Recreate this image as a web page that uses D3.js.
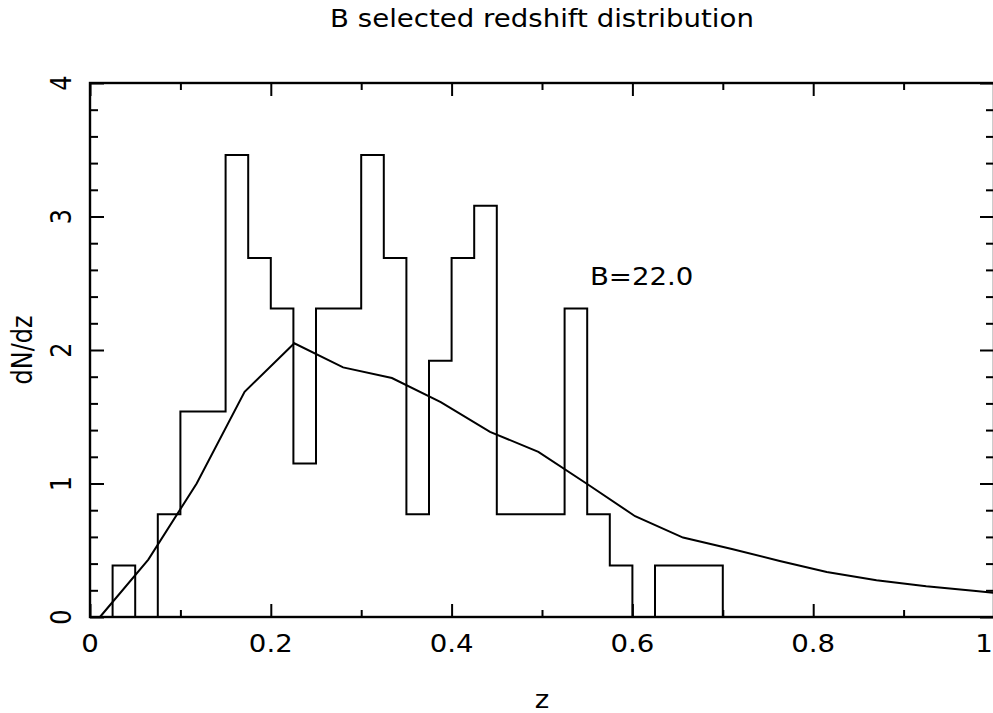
<!DOCTYPE html>
<html>
<head>
<meta charset="utf-8">
<script src="https://cdn.jsdelivr.net/npm/d3@7"></script>
<style>
  html, body { margin: 0; padding: 0; background: #fff; }
  svg { display: block; }
  text { font-family: "DejaVu Sans", sans-serif; fill: #000; }
</style>
</head>
<body>
<svg id="chart" width="993" height="713"></svg>
<script>
// ---- data ----
const titleText = "B selected redshift distribution";
const xLabelText = "z";
const yLabelText = "dN/dz";
const annotationText = "B=22.0";

// histogram: left bin edges (bin width 0.025) and dN/dz values
const binLeft = [0.000, 0.025, 0.050, 0.075, 0.100, 0.125, 0.150, 0.175, 0.200, 0.225,
                 0.250, 0.275, 0.300, 0.325, 0.350, 0.375, 0.400, 0.425, 0.450, 0.475,
                 0.500, 0.525, 0.550, 0.575, 0.600, 0.625, 0.650, 0.675];
const binValue = [0.00, 0.385, 0.00, 0.77, 1.54, 1.54, 3.46, 2.69, 2.31, 1.15,
                  2.31, 2.31, 3.46, 2.69, 0.77, 1.92, 2.69, 3.08, 0.77, 0.77,
                  0.77, 2.31, 0.77, 0.385, 0.00, 0.385, 0.385, 0.385];
const binWidth = 0.025;

// model curve
const modelZ = [0.011, 0.0645, 0.118, 0.171, 0.226, 0.280, 0.334, 0.388, 0.4425, 0.496,
                0.550, 0.603, 0.656, 0.710, 0.763, 0.815, 0.870, 0.925, 0.980, 1.000];
const modelN = [0.00, 0.43, 1.00, 1.687, 2.05, 1.87, 1.79, 1.61, 1.387, 1.237,
                0.996, 0.755, 0.595, 0.51, 0.42, 0.337, 0.275, 0.23, 0.195, 0.18];

// ticks
const xMajorTicks = [0, 0.2, 0.4, 0.6, 0.8, 1];
const xTickLabels = ["0", "0.2", "0.4", "0.6", "0.8", "1"];
const xMinorTicks = [0.1, 0.3, 0.5, 0.7, 0.9];
const yMajorTicks = [0, 1, 2, 3, 4];
const yTickLabels = ["0", "1", "2", "3", "4"];
const yMinorTicks = [0.2, 0.4, 0.6, 0.8, 1.2, 1.4, 1.6, 1.8, 2.2, 2.4, 2.6, 2.8, 3.2, 3.4, 3.6, 3.8];

// ---- layout ----
const L = 90, R = 994, T = 83, B = 617;
const SX = 1.15;        // horizontal stretch of glyphs
const FS = 24;

const svg = d3.select("#chart");
const x = d3.scaleLinear().domain([0, 1]).range([L, R]);
const y = d3.scaleLinear().domain([0, 4]).range([B, T]);

const defs = svg.append("defs");
defs.append("clipPath").attr("id", "plotclip")
  .append("rect").attr("x", L).attr("y", T - 2).attr("width", R - L).attr("height", B - T + 4);

// axes tick lines (inside-pointing)
function tickAxis(gen, tx, ty) {
  const g = svg.append("g").attr("transform", `translate(${tx},${ty})`).call(gen);
  g.selectAll(".domain").remove();
  g.selectAll("text").remove();
  g.selectAll("line").attr("stroke", "#000").attr("stroke-width", 2);
  return g;
}
tickAxis(d3.axisBottom(x).tickValues(xMajorTicks).tickSize(-13), 0, B);
tickAxis(d3.axisBottom(x).tickValues(xMinorTicks).tickSize(-7), 0, B);
tickAxis(d3.axisTop(x).tickValues(xMajorTicks).tickSize(-13), 0, T);
tickAxis(d3.axisTop(x).tickValues(xMinorTicks).tickSize(-7), 0, T);
tickAxis(d3.axisLeft(y).tickValues(yMajorTicks).tickSize(-14), L, 0);
tickAxis(d3.axisLeft(y).tickValues(yMinorTicks).tickSize(-8), L, 0);
tickAxis(d3.axisRight(y).tickValues(yMajorTicks).tickSize(-14), R, 0);
tickAxis(d3.axisRight(y).tickValues(yMinorTicks).tickSize(-8), R, 0);

// frame
svg.append("rect").attr("x", L).attr("y", T).attr("width", R - L).attr("height", B - T)
  .attr("fill", "none").attr("stroke", "#000").attr("stroke-width", 2.4);

const plot = svg.append("g").attr("clip-path", "url(#plotclip)");

// histogram outline (step)
const histPts = [];
binLeft.forEach((z0, i) => {
  const prev = i === 0 ? 0 : binValue[i - 1];
  histPts.push([z0, prev]);
  histPts.push([z0, binValue[i]]);
});
const lastEdge = binLeft[binLeft.length - 1] + binWidth;
histPts.push([lastEdge, binValue[binValue.length - 1]]);
histPts.push([lastEdge, 0]);
plot.append("path")
  .attr("d", d3.line().x(d => x(d[0])).y(d => y(d[1]))(histPts))
  .attr("fill", "none").attr("stroke", "#000").attr("stroke-width", 2)
  .attr("stroke-linejoin", "miter");

// model curve
plot.append("path")
  .attr("d", d3.line().x((d, i) => x(modelZ[i])).y((d, i) => y(modelN[i]))(modelZ))
  .attr("fill", "none").attr("stroke", "#000").attr("stroke-width", 2);

// text helper with horizontal stretch
function label(txt, px, py, rot, size, anchor) {
  svg.append("text")
    .attr("transform", `translate(${px},${py}) scale(${SX},1) rotate(${rot})`)
    .attr("text-anchor", anchor)
    .style("font-size", size + "px")
    .text(txt);
}

// x tick labels (last one kept inside the window edge)
xMajorTicks.forEach((v, i) => {
  const px = Math.min(x(v), 984);
  label(xTickLabels[i], px, 652, 0, FS, "middle");
});
// y tick labels (rotated, reading upward)
yMajorTicks.forEach((v, i) => label(yTickLabels[i], 71, y(v), -90, FS, "middle"));

// axis titles
label(xLabelText, (L + R) / 2, 708, 0, FS, "middle");
label(yLabelText, 32, (T + B) / 2, -90, FS, "middle");
label(titleText, (L + R) / 2, 27, 0, FS, "middle");
label(annotationText, x(0.553), 285, 0, FS, "start");
</script>
</body>
</html>
